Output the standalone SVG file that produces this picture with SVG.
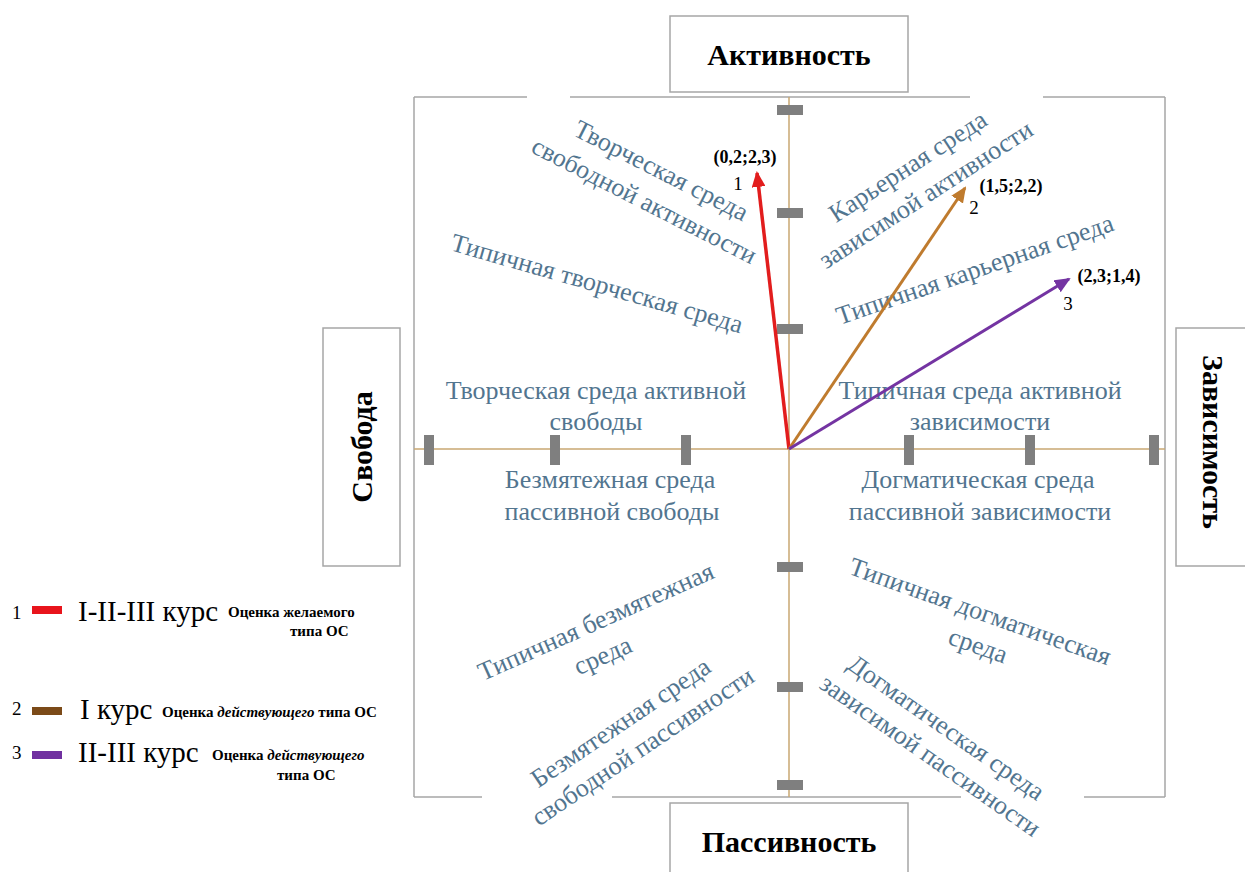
<svg xmlns="http://www.w3.org/2000/svg" width="1245" height="872" viewBox="0 0 1245 872">
<defs>
<style>
.frame{fill:none;stroke:#a6a6a6;stroke-width:1.5}
.axis{fill:none;stroke:#c9a873;stroke-width:1.5}
.tick{fill:#7f7f7f}
.box{fill:#fff;stroke:#a6a6a6;stroke-width:1.5}
.title{font-family:"Liberation Serif",serif;font-weight:bold;font-size:30px;fill:#000;text-anchor:middle}
.q{font-family:"Liberation Serif",serif;font-size:26px;fill:#52758f;text-anchor:middle}
.pt{font-family:"Liberation Serif",serif;font-weight:bold;font-size:18px;fill:#000;text-anchor:middle}
.num{font-family:"Liberation Serif",serif;font-size:19px;fill:#000;text-anchor:middle}
.lg{font-family:"Liberation Serif",serif;font-size:29px;fill:#000}
.lgs{font-family:"Liberation Serif",serif;font-weight:bold;font-size:15px;fill:#000}
.lgn{font-family:"Liberation Serif",serif;font-size:19px;fill:#000}
</style>
<marker id="mRed" markerUnits="userSpaceOnUse" markerWidth="16" markerHeight="14" refX="14" refY="7" orient="auto"><path d="M0,0 L16,7 L0,14 Z" fill="#e21d1d"/></marker>
<marker id="mOr" markerUnits="userSpaceOnUse" markerWidth="16" markerHeight="14" refX="14" refY="7" orient="auto"><path d="M0,0 L16,7 L0,14 Z" fill="#bf7b2e"/></marker>
<marker id="mPu" markerUnits="userSpaceOnUse" markerWidth="16" markerHeight="14" refX="14" refY="7" orient="auto"><path d="M0,0 L16,7 L0,14 Z" fill="#7434a2"/></marker>
</defs>
<rect width="1245" height="872" fill="#fff"/>

<g id="frame">
<path class="frame" d="M414,97 H527 M570,97 H970 M1043,97 H1165 M1165,97 V797 M414,797 H482 M612,797 H961 M1084,797 H1165 M414,97 V797"/>
</g>

<g id="axes">
<path class="axis" d="M789,97 V797 M414,449 H1165"/>
<rect class="tick" x="777" y="105" width="26" height="10"/>
<rect class="tick" x="777" y="208" width="26" height="10"/>
<rect class="tick" x="777" y="324" width="26" height="10"/>
<rect class="tick" x="777" y="562" width="26" height="10"/>
<rect class="tick" x="777" y="682" width="26" height="10"/>
<rect class="tick" x="777" y="780" width="26" height="10"/>
<rect class="tick" x="424" y="435" width="10" height="30"/>
<rect class="tick" x="550" y="435" width="10" height="30"/>
<rect class="tick" x="681" y="435" width="10" height="30"/>
<rect class="tick" x="904" y="435" width="10" height="30"/>
<rect class="tick" x="1025" y="435" width="10" height="30"/>
<rect class="tick" x="1149" y="435" width="10" height="30"/>
</g>

<g id="node-activity">
<rect class="box" x="670" y="16" width="238" height="76"/>
<text class="title" x="789" y="65">Активность</text>
</g>
<g id="node-passivity">
<rect class="box" x="670" y="803" width="238" height="75"/>
<text class="title" x="789" y="852">Пассивность</text>
</g>
<g id="node-freedom">
<rect class="box" x="323" y="328" width="77" height="238"/>
<text class="title" transform="translate(372,447) rotate(-90)">Свобода</text>
</g>
<g id="node-dependence">
<rect class="box" x="1176" y="328" width="80" height="238"/>
<text class="title" transform="translate(1203,442) rotate(90)">Зависимость</text>
</g>

<g id="labels-quadrants">
<text class="q" transform="translate(661,171) rotate(27)" y="8">Творческая среда</text>
<text class="q" transform="translate(644,201) rotate(27)" y="8">свободной активности</text>
<text class="q" transform="translate(597,284) rotate(16)" y="8">Типичная творческая среда</text>
<text class="q" x="596" y="399">Творческая среда активной</text>
<text class="q" x="596" y="430">свободы</text>
<text class="q" x="610" y="488">Безмятежная среда</text>
<text class="q" x="612" y="520">пассивной свободы</text>

<text class="q" transform="translate(908,167) rotate(-33)" y="8">Карьерная среда</text>
<text class="q" transform="translate(926,195) rotate(-33)" y="8">зависимой активности</text>
<text class="q" transform="translate(975,270) rotate(-19)" y="8">Типичная карьерная среда</text>
<text class="q" x="980" y="399">Типичная среда активной</text>
<text class="q" x="980" y="430">зависимости</text>
<text class="q" x="978" y="488">Догматическая среда</text>
<text class="q" x="980" y="520">пассивной зависимости</text>

<text class="q" transform="translate(596,622) rotate(-24)" y="8">Типичная безмятежная</text>
<text class="q" transform="translate(603,656) rotate(-24)" y="8">среда</text>
<text class="q" transform="translate(621,723) rotate(-34)" y="8">Безмятежная среда</text>
<text class="q" transform="translate(643,747) rotate(-34)" y="8">свободной пассивности</text>

<text class="q" transform="translate(980,612) rotate(19.5)" y="8">Типичная догматическая</text>
<text class="q" transform="translate(978,646) rotate(19.5)" y="8">среда</text>
<text class="q" transform="translate(946,728) rotate(35)" y="8">Догматическая среда</text>
<text class="q" transform="translate(930,756) rotate(35)" y="8">зависимой пассивности</text>
</g>

<g id="connectors">
<line x1="789" y1="449" x2="757" y2="173" stroke="#e21d1d" stroke-width="3.5" marker-end="url(#mRed)"/>
<line x1="789" y1="449" x2="965" y2="188" stroke="#bf7b2e" stroke-width="3" marker-end="url(#mOr)"/>
<line x1="789" y1="449" x2="1069" y2="279" stroke="#7434a2" stroke-width="3" marker-end="url(#mPu)"/>
</g>

<g id="point-labels">
<text class="pt" x="745" y="163">(0,2;2,3)</text>
<text class="num" x="738" y="190">1</text>
<text class="pt" x="1011" y="192">(1,5;2,2)</text>
<text class="num" x="974" y="214">2</text>
<text class="pt" x="1109" y="282">(2,3;1,4)</text>
<text class="num" x="1068" y="310">3</text>
</g>

<g id="legend">
<text class="lgn" x="12" y="619">1</text>
<rect x="32" y="606" width="30" height="8" fill="#e8141c"/>
<text class="lg" x="78" y="621">I-II-III курс</text>
<text class="lgs" x="228" y="617">Оценка желаемого</text>
<text class="lgs" x="290" y="636">типа ОС</text>

<text class="lgn" x="12" y="715">2</text>
<rect x="32" y="707" width="30" height="8" fill="#7b4a18"/>
<text class="lg" x="80" y="719">I курс</text>
<text class="lgs" x="162" y="717">Оценка <tspan font-style="italic">действующего</tspan> типа ОС</text>

<text class="lgn" x="12" y="759">3</text>
<rect x="32" y="751" width="30" height="8" fill="#7030a0"/>
<text class="lg" x="78" y="762">II-III курс</text>
<text class="lgs" x="212" y="760">Оценка <tspan font-style="italic">действующего</tspan></text>
<text class="lgs" x="277" y="780">типа ОС</text>
</g>
</svg>
